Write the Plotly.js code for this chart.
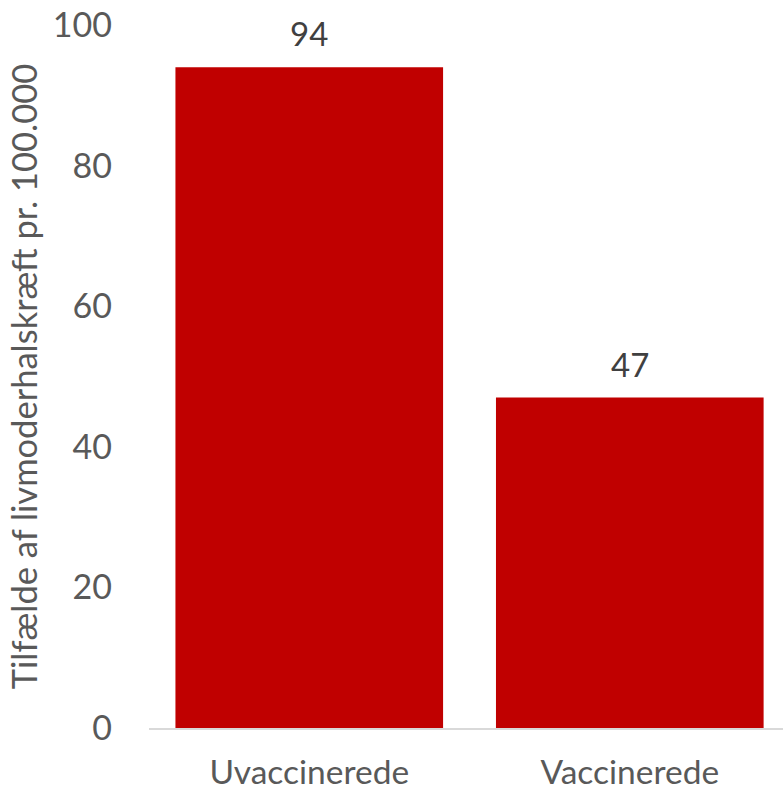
<!DOCTYPE html>
<html>
<head>
<meta charset="utf-8">
<script src="https://cdn.plot.ly/plotly-3.0.1.min.js"></script>
<style>html,body{margin:0;padding:0;background:#fff;}#chart{width:783px;height:792px;}</style>
</head>
<body>
<div id="chart"></div>
<script>
const categories = ["Uvaccinerede", "Vaccinerede"];
const values = [94, 47];
const valueLabels = ["94", "47"];
const yTicks = [0, 20, 40, 60, 80, 100];
const yTitle = "Tilfælde af livmoderhalskræft pr. 100.000";

const FONT = "Lato, 'Open Sans', sans-serif";

const trace = {
  type: "bar",
  x: categories,
  y: values,
  marker: {color: "#C00000"},
  hoverinfo: "none"
};

const annotations = categories.map((c, i) => ({
  x: c, y: values[i], xref: "x", yref: "y",
  text: valueLabels[i], showarrow: false,
  yanchor: "bottom", yshift: 12,
  font: {family: FONT, size: 33, color: "#404040"}
}));

const layout = {
  width: 783, height: 792,
  margin: {l: 149, r: 0, t: 25, b: 64},
  paper_bgcolor: "#fff", plot_bgcolor: "#fff",
  bargap: 0.165,
  showlegend: false,
  xaxis: {
    type: "category",
    range: [-0.5, 1.478],
    showgrid: false, zeroline: false,
    showline: true, linecolor: "#D9D9D9", linewidth: 1.5,
    ticks: "", ticklabelstandoff: 14,
    tickfont: {family: FONT, size: 33.5, color: "#595959"}
  },
  yaxis: {
    range: [0, 100],
    tickvals: yTicks,
    showgrid: false, zeroline: false, showline: false,
    ticks: "", ticklabelstandoff: 36,
    tickfont: {family: FONT, size: 34, color: "#595959"},
    title: {text: yTitle, standoff: 4, font: {family: FONT, size: 34.5, color: "#595959"}}
  },
  annotations: annotations
};

Plotly.newPlot("chart", [trace], layout, {staticPlot: true, displayModeBar: false});
</script>
</body>
</html>
